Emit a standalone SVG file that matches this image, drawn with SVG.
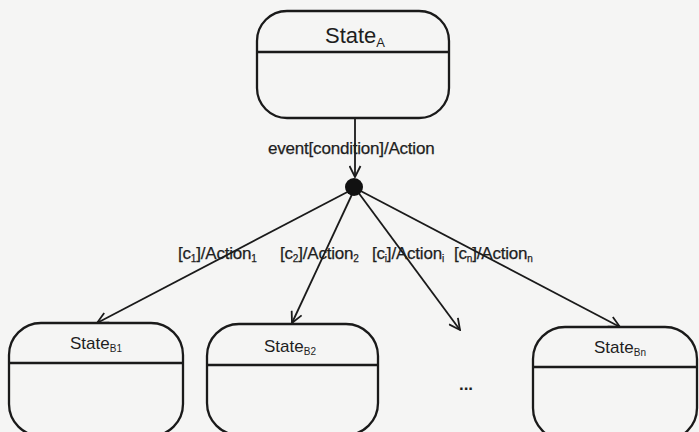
<svg xmlns="http://www.w3.org/2000/svg" width="699" height="432" viewBox="0 0 699 432">
  <style>
    .box { fill: none; stroke: #1a1a1a; stroke-width: 2.3; }
    .div { stroke: #1a1a1a; stroke-width: 2.3; }
    .edge { fill: none; stroke: #1a1a1a; stroke-width: 1.8; }
    .title { font-family: "Liberation Sans", Arial, sans-serif; fill: #1e1e1e; text-anchor: middle; }
    .lbl { font-family: "Liberation Sans", Arial, sans-serif; font-size: 17px; fill: #1e1e1e; stroke: #1e1e1e; stroke-width: 0.25; letter-spacing: -0.2px; }
    .sub { font-size: 10px; }
  </style>
  <defs>
    <marker id="open" viewBox="0 0 13 13" refX="12" refY="6.5" markerWidth="13" markerHeight="13" markerUnits="userSpaceOnUse" orient="auto">
      <path d="M1,1 L12,6.5 L1,12" fill="none" stroke="#1a1a1a" stroke-width="1.8"/>
    </marker>
  </defs>
  <rect width="699" height="432" fill="#f5f5f4"/>

  <!-- transitions -->
  <g id="connectors">
    <line class="edge" x1="355" y1="118" x2="355" y2="177" marker-end="url(#open)"/>
    <line class="edge" x1="355" y1="188" x2="97" y2="323" marker-end="url(#open)"/>
    <line class="edge" x1="355" y1="188" x2="292" y2="323" marker-end="url(#open)"/>
    <line class="edge" x1="355" y1="188" x2="460" y2="330" marker-end="url(#open)"/>
    <line class="edge" x1="355" y1="188" x2="620" y2="327" marker-end="url(#open)"/>
    <text class="lbl" x="268" y="154">event[condition]/Action</text>
    <text class="lbl" x="178" y="259">[c<tspan class="sub" dy="3">1</tspan><tspan dy="-3">]/Action</tspan><tspan class="sub" dy="3">1</tspan></text>
    <text class="lbl" x="280" y="259">[c<tspan class="sub" dy="3">2</tspan><tspan dy="-3">]/Action</tspan><tspan class="sub" dy="3">2</tspan></text>
    <text class="lbl" x="372" y="259">[c<tspan class="sub" dy="3">i</tspan><tspan dy="-3">]/Action</tspan><tspan class="sub" dy="3">i</tspan></text>
    <text class="lbl" x="454" y="259">[c<tspan class="sub" dy="3">n</tspan><tspan dy="-3">]/Action</tspan><tspan class="sub" dy="3">n</tspan></text>
  </g>

  <g id="junction">
    <circle cx="354" cy="187" r="9" fill="#111"/>
  </g>

  <g id="stateA">
    <rect class="box" x="257" y="11" width="192" height="107" rx="30" ry="30"/>
    <line class="div" x1="257" y1="52" x2="449" y2="52"/>
    <text class="title" x="355" y="43" font-size="22">State<tspan font-size="13" dy="4">A</tspan></text>
  </g>

  <g id="stateB1">
    <rect class="box" x="9" y="323" width="174" height="113" rx="32" ry="32"/>
    <line class="div" x1="9" y1="363" x2="183" y2="363"/>
    <text class="title" x="96" y="349" font-size="17">State<tspan font-size="10" dy="3">B1</tspan></text>
  </g>

  <g id="stateB2">
    <rect class="box" x="207" y="324" width="171" height="111" rx="32" ry="32"/>
    <line class="div" x1="207" y1="365" x2="378" y2="365"/>
    <text class="title" x="290" y="352" font-size="17">State<tspan font-size="10" dy="3">B2</tspan></text>
  </g>

  <g id="ellipsis">
    <text class="title" x="466" y="390" font-size="17" font-weight="bold">...</text>
  </g>

  <g id="stateBn">
    <rect class="box" x="533" y="327" width="164" height="113" rx="32" ry="32"/>
    <line class="div" x1="533" y1="367" x2="697" y2="367"/>
    <text class="title" x="620" y="353" font-size="17">State<tspan font-size="10" dy="3">Bn</tspan></text>
  </g>
</svg>
